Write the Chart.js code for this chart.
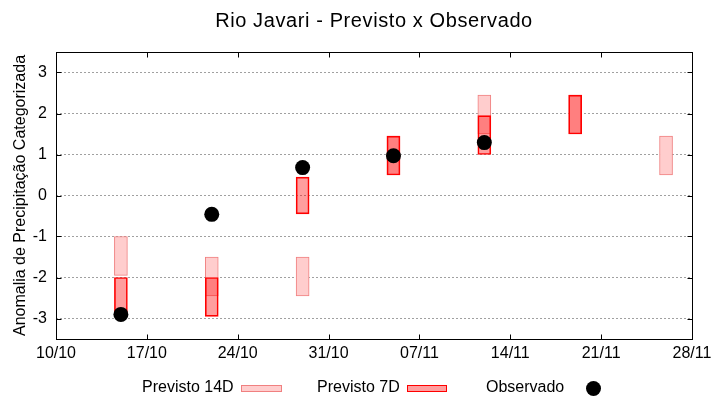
<!DOCTYPE html>
<html>
<head>
<meta charset="utf-8">
<script src="https://cdn.jsdelivr.net/npm/chart.js@4"></script>
<style>
  html, body { margin: 0; padding: 0; background: #fff; }
  #wrap { position: relative; width: 720px; height: 400px; font-family: "Liberation Sans", Arial, sans-serif; }
  #c { position: absolute; left: 0; top: 0; }
  #title { position: absolute; left: 56px; width: 636px; top: 10px; text-align: center; font-size: 20px; line-height: 20px; letter-spacing: 0.6px; color: #000; white-space: nowrap; }
  .lt { position: absolute; font-size: 16px; line-height: 16px; color: #000; white-space: nowrap; top: 379px; }
  .lb { position: absolute; box-sizing: border-box; top: 385px; height: 7px; }
</style>
</head>
<body>
<div id="wrap">
  <canvas id="c" width="720" height="400"></canvas>
  <div id="title">Rio Javari - Previsto x Observado</div>
  <span class="lt" style="left:142px">Previsto 14D</span>
  <div class="lb" style="left:241px;width:41px;background:#FFCDCD;border:1px solid #F08080"></div>
  <span class="lt" style="left:317px">Previsto 7D</span>
  <div class="lb" style="left:407px;width:40px;background:#FF9E9E;border:1px solid #FF0000"></div>
  <span class="lt" style="left:486px">Observado</span>
  <div style="position:absolute;left:585.5px;top:380.5px;width:15px;height:15px;border-radius:50%;background:#000"></div>
</div>
<script>
// ---- data ----
const startDate = '10/10';
const tickLabels = ['10/10', '17/10', '24/10', '31/10', '07/11', '14/11', '21/11', '28/11'];

const prev14Dates = ['15/10', '22/10', '29/10', '05/11', '12/11', '19/11', '26/11'];
const prev14Low   = [-1.95, -2.45, -2.45, 0.5, 1.5, 1.5, 0.5];
const prev14High  = [-1.0, -1.5, -1.5, 1.45, 2.45, 2.45, 1.45];

const prev7Dates = ['15/10', '22/10', '29/10', '05/11', '12/11', '19/11'];
const prev7Low   = [-2.95, -2.95, -0.45, 0.5, 1.0, 1.5];
const prev7High  = [-2.0, -2.0, 0.45, 1.45, 1.95, 2.45];

const obsDates = ['15/10', '22/10', '29/10', '05/11', '12/11'];
const observed = [-2.9, -0.46, 0.68, 0.97, 1.29];

const yTicks = [-3, -2, -1, 0, 1, 2, 3];

// ---- helpers ----
function dayOffset(s) {
  const [d, m] = s.split('/').map(Number);
  const [d0, m0] = startDate.split('/').map(Number);
  return Math.round((Date.UTC(2000, m - 1, d) - Date.UTC(2000, m0 - 1, d0)) / 86400000);
}
const maxDay = dayOffset(tickLabels[tickLabels.length - 1]);

const d14 = prev14Dates.map((s, i) => ({ x: dayOffset(s), y: [prev14Low[i], prev14High[i]] }));
const d7 = prev7Dates.map((s, i) => ({ x: dayOffset(s), y: [prev7Low[i], prev7High[i]] }));
const dObs = obsDates.map((s, i) => ({ x: dayOffset(s), y: observed[i] }));

const FONT = "'Liberation Sans', Arial, sans-serif";

const framePlugin = {
  id: 'frame',
  afterDraw(chart) {
    const ctx = chart.ctx;
    const { left, right, top, bottom } = chart.chartArea;
    const xs = chart.scales.x, ys = chart.scales.y;
    const L = Math.round(left) + 0.5, R = Math.round(right) + 0.5;
    const T = Math.round(top) + 0.5, B = Math.round(bottom) + 0.5;
    ctx.save();
    ctx.strokeStyle = '#000';
    ctx.lineWidth = 1;
    ctx.setLineDash([]);
    ctx.beginPath();
    ys.ticks.forEach(t => {
      const y = Math.round(ys.getPixelForValue(t.value)) + 0.5;
      ctx.moveTo(L, y); ctx.lineTo(L + 5, y);
      ctx.moveTo(R, y); ctx.lineTo(R - 5, y);
    });
    xs.ticks.forEach(t => {
      const x = Math.round(xs.getPixelForValue(t.value)) + 0.5;
      ctx.moveTo(x, B); ctx.lineTo(x, B - 5);
      ctx.moveTo(x, T); ctx.lineTo(x, T + 5);
    });
    ctx.stroke();
    ctx.strokeRect(L, T, R - L, B - T);
    ctx.restore();
  }
};

new Chart(document.getElementById('c'), {
  type: 'bar',
  data: {
    datasets: [
      {
        type: 'scatter',
        label: 'Observado',
        data: dObs,
        backgroundColor: '#000',
        borderWidth: 0,
        pointRadius: 7.5,
        pointHoverRadius: 7.5,
        order: 0
      },
      {
        label: 'Previsto 7D',
        data: d7,
        backgroundColor: 'rgba(255,0,0,0.38)',
        borderColor: '#FF0000',
        borderWidth: 1,
        borderSkipped: false,
        barThickness: 13,
        grouped: false,
        order: 1
      },
      {
        label: 'Previsto 14D',
        data: d14,
        backgroundColor: '#FFCDCD',
        borderColor: '#F08080',
        borderWidth: 1,
        borderSkipped: false,
        barThickness: 13,
        grouped: false,
        order: 2
      }
    ]
  },
  options: {
    responsive: false,
    animation: false,
    devicePixelRatio: 1,
    layout: { padding: { left: 0, right: 28, top: 52, bottom: 0 } },
    plugins: {
      legend: { display: false },
      tooltip: { enabled: false },
      title: { display: false }
    },
    scales: {
      x: {
        type: 'linear',
        min: 0,
        max: maxDay,
        offset: false,
        grid: { display: false, offset: false, drawTicks: false },
        border: { display: false },
        ticks: {
          stepSize: 7,
          autoSkip: false,
          maxRotation: 0,
          padding: 5,
          color: '#000',
          font: { family: FONT, size: 16 },
          callback: (v, i) => tickLabels[i]
        },
        afterFit: s => { s.height = 61; }
      },
      y: {
        min: -3.5,
        max: 3.5,
        grid: { color: '#A0A0A0', lineWidth: 1, drawTicks: false },
        border: { display: false, dash: [2, 2] },
        ticks: {
          autoSkip: false,
          padding: 9,
          color: '#000',
          font: { family: FONT, size: 16 },
          callback: v => String(v)
        },
        afterBuildTicks: s => { s.ticks = yTicks.map(v => ({ value: v })); },
        title: {
          display: true,
          text: 'Anomalia de Precipitação Categorizada',
          color: '#000',
          font: { family: FONT, size: 16 },
          padding: { top: 11, bottom: 0 }
        },
        afterFit: s => { s.width = 56; }
      }
    }
  },
  plugins: [framePlugin]
});
</script>
</body>
</html>
